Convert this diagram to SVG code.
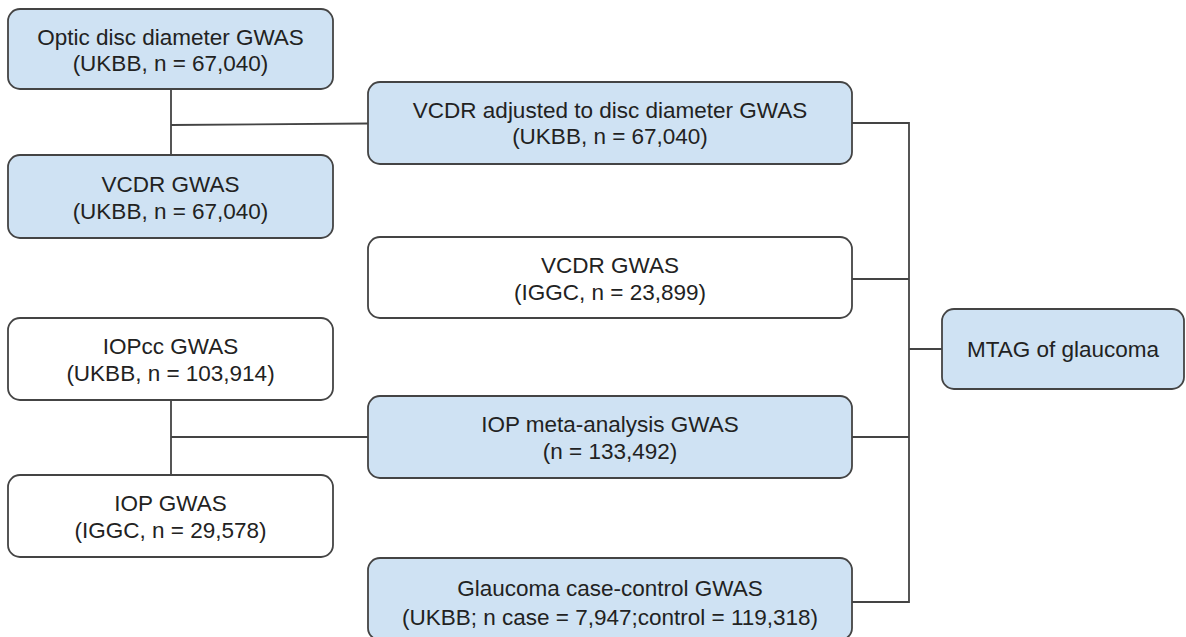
<svg xmlns="http://www.w3.org/2000/svg" width="1186" height="637" viewBox="0 0 1186 637">
<style>
.box{stroke:#444444;stroke-width:1.8}
.blue{fill:#cfe2f3}
.white{fill:#ffffff}
.t{font-family:"Liberation Sans",Arial,sans-serif;font-size:22.5px;fill:#222222;text-anchor:middle}
.c{fill:none;stroke:#444444;stroke-width:1.8}
</style>
<rect width="1186" height="637" fill="#ffffff"/>
<g id="connectors">
<path class="c" d="M171 89V155M171 125L368 123.5"/>
<path class="c" d="M171 400V475M171 437H368"/>
<path class="c" d="M852 123H909V602H852M852 279H909M852 437H909M909 349H942"/>
</g>
<g id="n1"><rect class="box blue" x="8" y="9" width="325" height="80" rx="12"/>
<text class="t" x="170.5" y="44.5">Optic disc diameter GWAS</text><text class="t" x="170.5" y="71">(UKBB, n = 67,040)</text></g>
<g id="n2"><rect class="box blue" x="8" y="155" width="325" height="83" rx="12"/>
<text class="t" x="170.5" y="192">VCDR GWAS</text><text class="t" x="170.5" y="218.5">(UKBB, n = 67,040)</text></g>
<g id="n3"><rect class="box blue" x="368" y="82" width="484" height="82" rx="12"/>
<text class="t" x="610" y="117.5">VCDR adjusted to disc diameter GWAS</text><text class="t" x="610" y="144">(UKBB, n = 67,040)</text></g>
<g id="n4"><rect class="box white" x="368" y="237" width="484" height="81" rx="12"/>
<text class="t" x="610" y="273">VCDR GWAS</text><text class="t" x="610" y="299.5">(IGGC, n = 23,899)</text></g>
<g id="n5"><rect class="box white" x="8" y="318" width="325" height="82" rx="12"/>
<text class="t" x="170.5" y="354">IOPcc GWAS</text><text class="t" x="170.5" y="380.5">(UKBB, n = 103,914)</text></g>
<g id="n6"><rect class="box blue" x="368" y="396" width="484" height="82" rx="12"/>
<text class="t" x="610" y="432">IOP meta-analysis GWAS</text><text class="t" x="610" y="458.5">(n = 133,492)</text></g>
<g id="n7"><rect class="box white" x="8" y="475" width="325" height="82" rx="12"/>
<text class="t" x="170.5" y="511">IOP GWAS</text><text class="t" x="170.5" y="537.5">(IGGC, n = 29,578)</text></g>
<g id="n8"><rect class="box blue" x="368" y="558" width="484" height="82" rx="12"/>
<text class="t" x="610" y="596">Glaucoma case-control GWAS</text><text class="t" x="610" y="625">(UKBB; n case = 7,947;control = 119,318)</text></g>
<g id="n9"><rect class="box blue" x="942" y="309" width="242" height="80" rx="12"/>
<text class="t" x="1063" y="357">MTAG of glaucoma</text></g>
</svg>
